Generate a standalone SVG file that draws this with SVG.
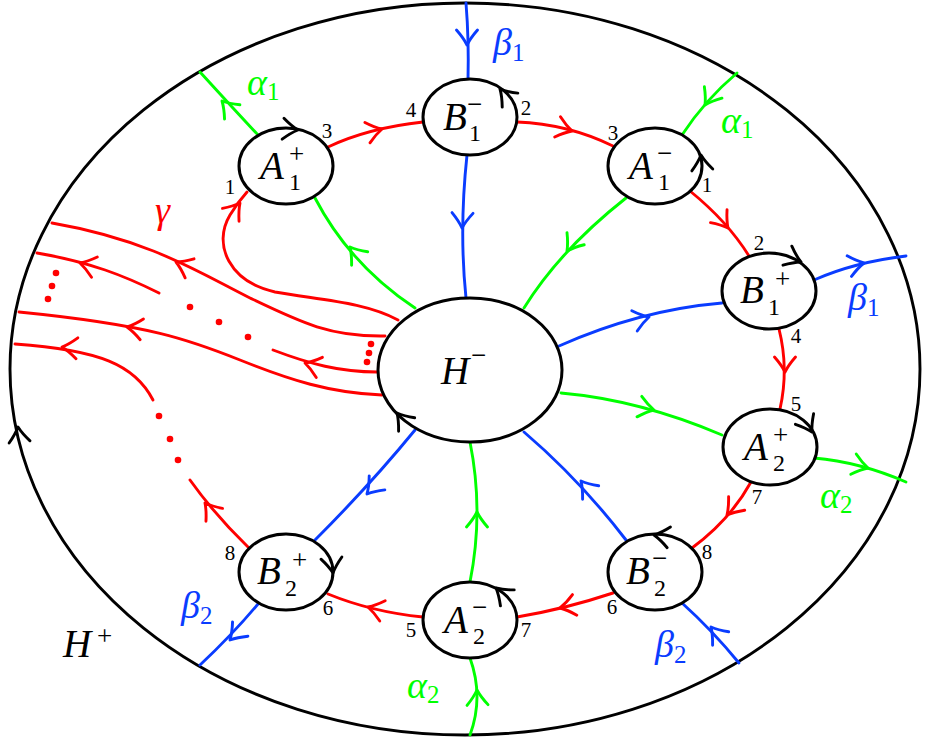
<svg xmlns="http://www.w3.org/2000/svg" width="928" height="740" viewBox="0 0 928 740">
<style>
.ln{fill:none;stroke-width:2.9;stroke-linecap:round}
.r{stroke:#ff0000}
.g{stroke:#00ff00}
.b{stroke:#0a3cff}
.k{stroke:#000000}
#ah{fill:none;stroke-width:2.9;stroke-linecap:round;stroke-linejoin:round}
.nd ellipse{fill:#ffffff;stroke:#000000;stroke-width:3}
.m{font-family:"Liberation Serif",serif;font-style:italic;font-size:39px}
.sp{font-family:"Liberation Serif",serif;font-size:27px}
.sb{font-family:"Liberation Serif",serif;font-size:24px}
.n{font-family:"Liberation Serif",serif;font-size:21px;text-anchor:middle;fill:#000}
.gl{font-family:"Liberation Serif",serif;font-style:italic;font-size:38px}
.gs{font-family:"Liberation Serif",serif;font-style:normal;font-size:25px}
</style>
<defs>
<path id="ah" d="M-15,-10.5 Q-7,-3.5 0,0 Q-7,3.5 -15,10.5"/>
</defs>

<g id="outer">
<ellipse cx="465" cy="369" rx="455" ry="366" fill="none" stroke="#000" stroke-width="2.9"/>
<use href="#ah" class="k" transform="translate(18,427) rotate(-96)"/>
</g>

<g id="connectors">
<g class="ln r">
<path d="M328,147 Q368,128 423,122"/>
<path d="M517,122 Q568,124 613,146"/>
<path d="M690,191 Q728,222 749,256"/>
<path d="M779,329 Q789,369 780,409"/>
<path d="M751,482 Q730,520 692,548"/>
<path d="M613,593 Q565,609 517,617"/>
<path d="M423,617 Q372,612 328,594"/>
<path d="M248,547 Q215,515 190,480"/>
<path d="M398,320 C365,302 320,300 275,292 C230,282 212,245 230,215 Q238,202 247,192"/>
<path d="M385,336 C330,337 300,322 250,298 C200,273 150,240 52,223"/>
<path d="M159,293 C125,276 90,262 37,253"/>
<path d="M382,395 C330,393 290,380 240,360 C190,340 150,325 19,312"/>
<path d="M377,372 C340,372 310,364 273,350"/>
<path d="M153,400 C135,365 100,350 15,344"/>
</g>
<g class="r">
<use href="#ah" transform="translate(382,129) rotate(-14)"/>
<use href="#ah" transform="translate(572,131) rotate(16)"/>
<use href="#ah" transform="translate(728,228) rotate(52)"/>
<use href="#ah" transform="translate(785,372) rotate(90)"/>
<use href="#ah" transform="translate(727,515) rotate(130)"/>
<use href="#ah" transform="translate(560,608) rotate(168)"/>
<use href="#ah" transform="translate(368,607) rotate(195)"/>
<use href="#ah" transform="translate(205,503) rotate(-128)"/>
<use href="#ah" transform="translate(240,203) rotate(-52)"/>
<use href="#ah" transform="translate(176,262) rotate(205)"/>
<use href="#ah" transform="translate(80,263) rotate(196)"/>
<use href="#ah" transform="translate(127,327) rotate(189)"/>
<use href="#ah" transform="translate(305,363) rotate(197)"/>
<use href="#ah" transform="translate(62,347) rotate(185)"/>
</g>
<g fill="#ff0000">
<circle cx="178" cy="460" r="3.3"/>
<circle cx="170" cy="439" r="3.3"/>
<circle cx="159" cy="416" r="3.3"/>
<circle cx="56" cy="273" r="3.3"/>
<circle cx="52" cy="286" r="3.3"/>
<circle cx="48" cy="299" r="3.3"/>
<circle cx="190" cy="307" r="3.3"/>
<circle cx="219" cy="322" r="3.3"/>
<circle cx="248" cy="337" r="3.3"/>
<circle cx="371" cy="344" r="3.3"/>
<circle cx="369" cy="353" r="3.3"/>
<circle cx="367" cy="362" r="3.3"/>
</g>

<g class="ln g">
<path d="M258,135 Q230,105 200,72"/>
<path d="M415,308 Q350,265 315,198"/>
<path d="M737,73 Q705,100 682,135"/>
<path d="M626,198 Q560,250 524,308"/>
<path d="M561,393 Q640,400 722,435"/>
<path d="M814,458 Q860,462 906,482"/>
<path d="M470,735 Q484,697 470,658"/>
<path d="M470,582 Q484,512 470,442"/>
</g>
<g class="g">
<use href="#ah" transform="translate(222,101) rotate(-133)"/>
<use href="#ah" transform="translate(350,247) rotate(-130)"/>
<use href="#ah" transform="translate(705,105) rotate(123)"/>
<use href="#ah" transform="translate(567,251) rotate(125)"/>
<use href="#ah" transform="translate(654,410) rotate(13)"/>
<use href="#ah" transform="translate(868,468) rotate(15)"/>
<use href="#ah" transform="translate(477,690) rotate(-92)"/>
<use href="#ah" transform="translate(477,512) rotate(-90)"/>
</g>

<g class="ln b">
<path d="M466,3 Q469,40 468,80"/>
<path d="M467,155 Q459,230 466,298"/>
<path d="M559,346 Q640,310 722,303"/>
<path d="M814,280 Q855,262 906,256"/>
<path d="M415,430 Q370,485 315,540"/>
<path d="M258,604 Q232,635 200,665"/>
<path d="M626,540 Q580,480 524,432"/>
<path d="M739,663 Q712,630 682,603"/>
</g>
<g class="b">
<use href="#ah" transform="translate(467,45) rotate(90)"/>
<use href="#ah" transform="translate(462,228) rotate(92)"/>
<use href="#ah" transform="translate(649,317) rotate(-15)"/>
<use href="#ah" transform="translate(864,263) rotate(-12)"/>
<use href="#ah" transform="translate(367,494) rotate(132)"/>
<use href="#ah" transform="translate(230,640) rotate(133)"/>
<use href="#ah" transform="translate(581,481) rotate(-130)"/>
<use href="#ah" transform="translate(711,627) rotate(-130)"/>
</g>
</g>

<g id="Hminus" class="nd">
<ellipse cx="470" cy="370" rx="92" ry="72"/>
<use href="#ah" class="k" transform="translate(397,413) rotate(-130)"/>
<text class="m" x="441" y="384">H</text><text class="sp" x="471" y="364">−</text>
</g>

<g id="A1p" class="nd">
<ellipse cx="286" cy="166" rx="47" ry="38"/>
<use href="#ah" class="k" transform="translate(298,130) rotate(5)"/>
<text class="m" x="260" y="179">A</text><text class="sp" x="289" y="163">+</text><text class="sb" x="289" y="190">1</text>
<text class="n" x="230" y="194">1</text><text class="n" x="327" y="138">3</text>
</g>

<g id="B1m" class="nd">
<ellipse cx="470" cy="117" rx="47" ry="38"/>
<use href="#ah" class="k" transform="translate(500,89) rotate(-132)"/>
<text class="m" x="443" y="130">B</text><text class="sp" x="467" y="113">−</text><text class="sb" x="469" y="141">1</text>
<text class="n" x="411" y="117">4</text><text class="n" x="526" y="115">2</text>
</g>

<g id="A1m" class="nd">
<ellipse cx="655" cy="166" rx="47" ry="38"/>
<use href="#ah" class="k" transform="translate(701,155) rotate(-95)"/>
<text class="m" x="629" y="179">A</text><text class="sp" x="657" y="162">−</text><text class="sb" x="658" y="190">1</text>
<text class="n" x="613" y="140">3</text><text class="n" x="707" y="192">1</text>
</g>

<g id="B1p" class="nd">
<ellipse cx="769" cy="291" rx="47" ry="38"/>
<use href="#ah" class="k" transform="translate(801,262) rotate(25)"/>
<text class="m" x="740" y="303">B</text><text class="sp" x="775" y="288">+</text><text class="sb" x="768" y="315">1</text>
<text class="n" x="759" y="250">2</text><text class="n" x="796" y="343">4</text>
</g>

<g id="A2p" class="nd">
<ellipse cx="770" cy="447" rx="47" ry="38"/>
<use href="#ah" class="k" transform="translate(812,432) rotate(60)"/>
<text class="m" x="744" y="460">A</text><text class="sp" x="773" y="444">+</text><text class="sb" x="773" y="471">2</text>
<text class="n" x="796" y="411">5</text><text class="n" x="757" y="504">7</text>
</g>

<g id="B2m" class="nd">
<ellipse cx="655" cy="572" rx="47" ry="38"/>
<use href="#ah" class="k" transform="translate(654,535) rotate(189)"/>
<text class="m" x="626" y="584">B</text><text class="sp" x="652" y="567">−</text><text class="sb" x="654" y="596">2</text>
<text class="n" x="707" y="559">8</text><text class="n" x="612" y="614">6</text>
</g>

<g id="A2m" class="nd">
<ellipse cx="470" cy="620" rx="47" ry="38"/>
<use href="#ah" class="k" transform="translate(496,588) rotate(-139)"/>
<text class="m" x="444" y="633">A</text><text class="sp" x="472" y="616">−</text><text class="sb" x="473" y="644">2</text>
<text class="n" x="411" y="637">5</text><text class="n" x="526" y="637">7</text>
</g>

<g id="B2p" class="nd">
<ellipse cx="286" cy="572" rx="47" ry="38"/>
<use href="#ah" class="k" transform="translate(333,573) rotate(84)"/>
<text class="m" x="257" y="584">B</text><text class="sp" x="292" y="569">+</text><text class="sb" x="285" y="596">2</text>
<text class="n" x="230" y="560">8</text><text class="n" x="328" y="615">6</text>
</g>

<g id="labels">
<text class="gl" x="247" y="95" fill="#00ff00">α<tspan class="gs" dy="5">1</tspan></text>
<text class="gl" x="493" y="55" fill="#0a3cff">β<tspan class="gs" dy="6">1</tspan></text>
<text class="gl" x="721" y="133" fill="#00ff00">α<tspan class="gs" dy="5">1</tspan></text>
<text class="gl" x="848" y="310" fill="#0a3cff">β<tspan class="gs" dy="6">1</tspan></text>
<text class="gl" x="820" y="508" fill="#00ff00">α<tspan class="gs" dy="5">2</tspan></text>
<text class="gl" x="655" y="657" fill="#0a3cff">β<tspan class="gs" dy="6">2</tspan></text>
<text class="gl" x="407" y="698" fill="#00ff00">α<tspan class="gs" dy="5">2</tspan></text>
<text class="gl" x="181" y="618" fill="#0a3cff">β<tspan class="gs" dy="6">2</tspan></text>
<text class="gl" x="155" y="223" fill="#ff0000">γ</text>
<text class="m" x="63" y="657">H</text><text class="sp" x="97" y="645">+</text>
</g>
</svg>
